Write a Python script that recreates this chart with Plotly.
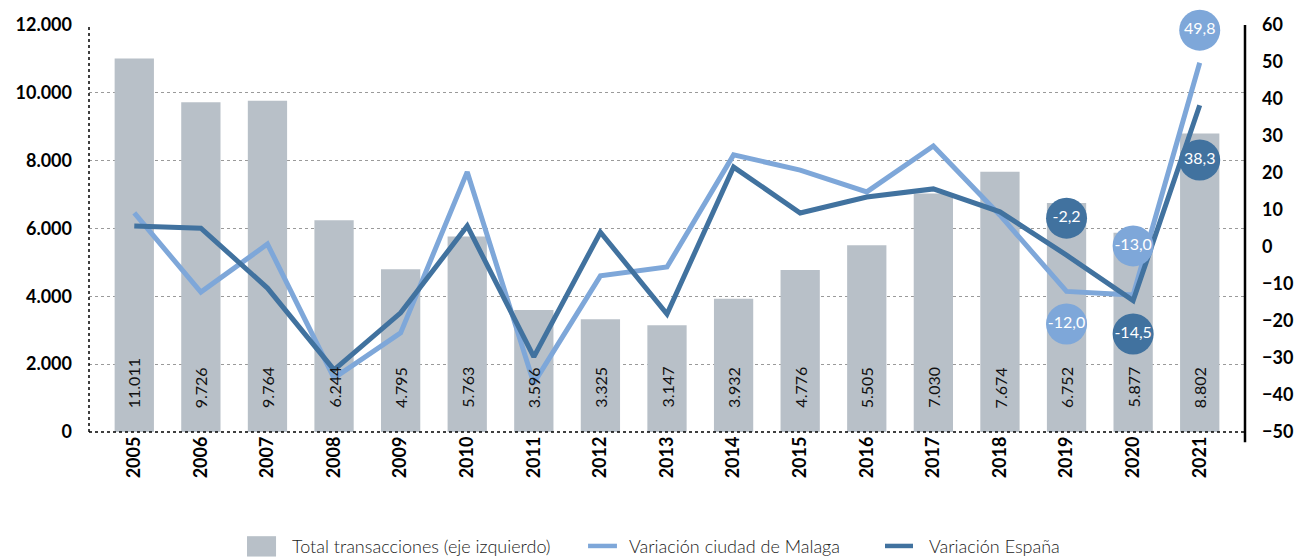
import plotly.graph_objects as go

years = [str(y) for y in range(2005, 2022)]
transacciones = [11011, 9726, 9764, 6244, 4795, 5763, 3596, 3325, 3147, 3932, 4776, 5505, 7030, 7674, 6752, 5877, 8802]
var_malaga = [9.2, -12.2, 0.8, -35.4, -23.2, 20.3, -36.8, -7.8, -5.4, 24.9, 20.8, 14.9, 27.3, 8.6, -12.0, -13.0, 49.8]
var_espana = [5.7, 5.1, -11.1, -33.2, -17.8, 5.7, -29.7, 4.0, -18.1, 21.6, 9.2, 13.5, 15.7, 9.5, -2.2, -14.5, 38.3]
legend_names = ["Total transacciones (eje izquierdo)", "Variación ciudad de Malaga", "Variación España"]

# highlighted value bubbles: (year index, offset of bubble from point in right-axis units)
malaga_bubbles = [(14, -8.8), (15, 13.3), (16, 8.8)]
espana_bubbles = [(14, 10.0), (15, -9.0), (16, -14.8)]

BAR = "#b8c0c8"
LIGHT = "#7ea7d9"
DARK = "#41729f"
FONT = "Lato"

def es(v, dec=0):
    if dec == 0:
        return f"{v:,}".replace(",", ".")
    return f"{v:.1f}".replace(".", ",")

fig = go.Figure()
fig.add_trace(go.Bar(
    x=years, y=transacciones, name=legend_names[0],
    marker=dict(color=BAR, line=dict(width=0)), width=0.59, showlegend=False,
))
fig.add_trace(go.Scatter(
    x=years, y=var_malaga, name=legend_names[1], yaxis="y2", showlegend=False,
    mode="lines", line=dict(color=LIGHT, width=5),
))
fig.add_trace(go.Scatter(
    x=years, y=var_espana, name=legend_names[2], yaxis="y2", showlegend=False,
    mode="lines", line=dict(color=DARK, width=5),
))

for bubbles, series, col in [(malaga_bubbles, var_malaga, LIGHT), (espana_bubbles, var_espana, DARK)]:
    fig.add_trace(go.Scatter(
        x=[years[i] for i, _ in bubbles],
        y=[series[i] + off for i, off in bubbles],
        text=[es(series[i], 1) for i, _ in bubbles],
        yaxis="y2", mode="markers+text", showlegend=False, cliponaxis=False,
        marker=dict(color=col, size=41, line=dict(width=0)),
        textposition="middle center",
        textfont=dict(color="white", size=16, family=FONT),
        hoverinfo="skip",
    ))

annotations = []
for i, v in enumerate(transacciones):
    annotations.append(dict(
        x=i, y=650, xref="x", yref="y", text=es(v), textangle=-90,
        showarrow=False, yanchor="bottom", xanchor="center",
        font=dict(size=16, color="#111", family=FONT),
    ))

# custom legend (paper coordinates)
leg_y = -0.280
legend_text_x = [0.1739, 0.4654, 0.7249]
for name, lx in zip(legend_names, legend_text_x):
    annotations.append(dict(
        x=lx, y=leg_y, xref="paper", yref="paper", text=name, showarrow=False,
        xanchor="left", yanchor="middle",
        font=dict(size=18, color="#222", family=FONT, weight=300),
    ))

shapes = [
    dict(type="line", xref="paper", yref="paper", x0=0, x1=0, y0=0, y1=1,
         line=dict(color="black", width=1.5, dash="dot")),
    dict(type="line", xref="paper", yref="paper", x0=0, x1=1, y0=0, y1=0,
         line=dict(color="black", width=1.5, dash="dot")),
    dict(type="line", xref="paper", yref="paper", x0=1, x1=1, y0=-0.025, y1=1,
         line=dict(color="black", width=2.5)),
    # legend symbols
    dict(type="rect", xref="paper", yref="paper", x0=0.1367, x1=0.1618, y0=-0.306, y1=-0.256,
         line=dict(width=0), fillcolor=BAR),
    dict(type="line", xref="paper", yref="paper", x0=0.4317, x1=0.4567, y0=-0.280, y1=-0.280,
         line=dict(color=LIGHT, width=4.5)),
    dict(type="line", xref="paper", yref="paper", x0=0.6886, x1=0.7128, y0=-0.280, y1=-0.280,
         line=dict(color=DARK, width=4.5)),
]

fig.update_layout(
    width=1296, height=560,
    margin=dict(l=89, r=51, t=25, b=128, autoexpand=False),
    plot_bgcolor="white", paper_bgcolor="white",
    separators=",.",
    font=dict(family=FONT, color="black"),
    showlegend=False,
    xaxis=dict(
        type="category", range=[-0.68, 16.68], tickangle=-90, showgrid=False,
        showline=False, zeroline=False, ticks="", automargin=False,
        tickfont=dict(size=18, weight="bold", family=FONT, color="black"),
    ),
    yaxis=dict(
        range=[0, 12000], dtick=2000, tickformat=",", showline=False, zeroline=False,
        showgrid=True, gridcolor="#9a9a9a", griddash="dot", gridwidth=1, automargin=False,
        tickfont=dict(size=18, weight="bold", family=FONT, color="black"),
        ticklabelstandoff=16,
    ),
    yaxis2=dict(
        range=[-50, 60], dtick=10, overlaying="y", side="right", showgrid=False,
        zeroline=False, showline=False, automargin=False,
        tickfont=dict(size=18, weight="bold", family=FONT, color="black"),
        ticklabelstandoff=16,
    ),
    annotations=annotations,
    shapes=shapes,
)

fig.write_html(
    "out.html",
    config={"displayModeBar": False},
    post_script="document.body.style.margin='0px';document.body.style.overflow='hidden';",
)
